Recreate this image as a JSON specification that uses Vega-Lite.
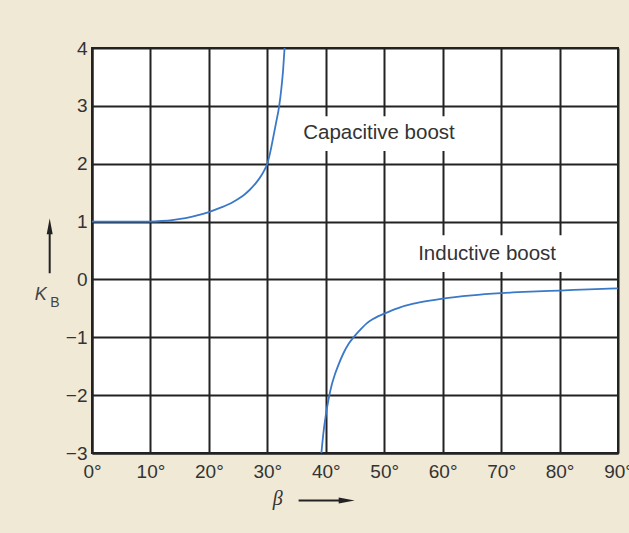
{
  "$schema": "https://vega.github.io/schema/vega-lite/v6.json",
  "width": 526,
  "height": 405,
  "autosize": {"type": "none"},
  "padding": {"left": 92, "top": 48, "right": 11, "bottom": 80},
  "background": "#f0e9d6",
  "config": {
    "view": {"fill": "white", "stroke": "#222", "strokeWidth": 2},
    "axis": {
      "grid": true,
      "gridColor": "#222",
      "gridWidth": 2,
      "gridOpacity": 1,
      "ticks": false,
      "domainColor": "#222",
      "domainWidth": 2,
      "labelFont": "Liberation Sans",
      "labelFontSize": 19,
      "labelColor": "#333",
      "labelFlush": false,
      "labelOverlap": false,
      "labelBound": false
    },
    "axisX": {"labelPadding": 9},
    "axisY": {"labelPadding": 5}
  },
  "datasets": {
    "curve": [
      {"beta": 0, "kb": 1.0, "branch": "capacitive"},
      {"beta": 5, "kb": 1.0, "branch": "capacitive"},
      {"beta": 10, "kb": 1.0, "branch": "capacitive"},
      {"beta": 12, "kb": 1.01, "branch": "capacitive"},
      {"beta": 14, "kb": 1.03, "branch": "capacitive"},
      {"beta": 16, "kb": 1.06, "branch": "capacitive"},
      {"beta": 18, "kb": 1.105, "branch": "capacitive"},
      {"beta": 20, "kb": 1.165, "branch": "capacitive"},
      {"beta": 22, "kb": 1.24, "branch": "capacitive"},
      {"beta": 24, "kb": 1.33, "branch": "capacitive"},
      {"beta": 25, "kb": 1.39, "branch": "capacitive"},
      {"beta": 26, "kb": 1.46, "branch": "capacitive"},
      {"beta": 27, "kb": 1.55, "branch": "capacitive"},
      {"beta": 28, "kb": 1.66, "branch": "capacitive"},
      {"beta": 29, "kb": 1.8, "branch": "capacitive"},
      {"beta": 29.5, "kb": 1.89, "branch": "capacitive"},
      {"beta": 30, "kb": 2.0, "branch": "capacitive"},
      {"beta": 30.5, "kb": 2.2, "branch": "capacitive"},
      {"beta": 31, "kb": 2.45, "branch": "capacitive"},
      {"beta": 31.5, "kb": 2.71, "branch": "capacitive"},
      {"beta": 32, "kb": 2.98, "branch": "capacitive"},
      {"beta": 32.4, "kb": 3.3, "branch": "capacitive"},
      {"beta": 32.7, "kb": 3.62, "branch": "capacitive"},
      {"beta": 32.95, "kb": 4.0, "branch": "capacitive"},
      {"beta": 39.25, "kb": -3.0, "branch": "inductive"},
      {"beta": 39.6, "kb": -2.65, "branch": "inductive"},
      {"beta": 40, "kb": -2.35, "branch": "inductive"},
      {"beta": 40.5, "kb": -2.06, "branch": "inductive"},
      {"beta": 41, "kb": -1.83, "branch": "inductive"},
      {"beta": 41.5, "kb": -1.66, "branch": "inductive"},
      {"beta": 42, "kb": -1.52, "branch": "inductive"},
      {"beta": 43, "kb": -1.28, "branch": "inductive"},
      {"beta": 44, "kb": -1.1, "branch": "inductive"},
      {"beta": 45, "kb": -0.97, "branch": "inductive"},
      {"beta": 46, "kb": -0.86, "branch": "inductive"},
      {"beta": 47, "kb": -0.76, "branch": "inductive"},
      {"beta": 48, "kb": -0.69, "branch": "inductive"},
      {"beta": 49, "kb": -0.635, "branch": "inductive"},
      {"beta": 50, "kb": -0.59, "branch": "inductive"},
      {"beta": 52.5, "kb": -0.49, "branch": "inductive"},
      {"beta": 55, "kb": -0.42, "branch": "inductive"},
      {"beta": 57.5, "kb": -0.37, "branch": "inductive"},
      {"beta": 60, "kb": -0.33, "branch": "inductive"},
      {"beta": 65, "kb": -0.275, "branch": "inductive"},
      {"beta": 70, "kb": -0.238, "branch": "inductive"},
      {"beta": 75, "kb": -0.212, "branch": "inductive"},
      {"beta": 80, "kb": -0.192, "branch": "inductive"},
      {"beta": 85, "kb": -0.172, "branch": "inductive"},
      {"beta": 90, "kb": -0.155, "branch": "inductive"}
    ]
  },
  "layer": [
    {
      "data": {"name": "curve"},
      "mark": {"type": "line", "clip": true, "color": "#3a78c8", "strokeWidth": 1.8, "interpolate": "monotone"},
      "encoding": {
        "x": {"field": "beta", "type": "quantitative", "title": null,
              "scale": {"domain": [0, 90], "nice": false, "zero": false},
              "axis": {"values": [0, 10, 20, 30, 40, 50, 60, 70, 80, 90], "labelExpr": "datum.label + '°'"}},
        "y": {"field": "kb", "type": "quantitative", "title": null,
              "scale": {"domain": [-3, 4], "nice": false, "zero": false},
              "axis": {"values": [-3, -2, -1, 0, 1, 2, 3, 4], "format": "d"}},
        "detail": {"field": "branch"}
      }
    },
    {
      "data": {"values": [{}]},
      "mark": {"type": "rect", "fill": "white"},
      "encoding": {
        "x": {"datum": 36, "type": "quantitative", "title": null, "scale": {"domain": [0, 90]}},
        "x2": {"datum": 62.5},
        "y": {"datum": 2.22, "type": "quantitative", "title": null, "scale": {"domain": [-3, 4]}},
        "y2": {"datum": 2.82}
      }
    },
    {
      "data": {"values": [{}]},
      "mark": {"type": "rect", "fill": "white"},
      "encoding": {
        "x": {"datum": 54.5, "type": "quantitative", "title": null, "scale": {"domain": [0, 90]}},
        "x2": {"datum": 81.5},
        "y": {"datum": 0.13, "type": "quantitative", "title": null, "scale": {"domain": [-3, 4]}},
        "y2": {"datum": 0.765}
      }
    },
    {
      "data": {"values": [{}]},
      "mark": {"type": "text", "font": "Liberation Sans", "fontSize": 20.5, "color": "#333", "align": "center", "baseline": "middle", "text": "Capacitive boost"},
      "encoding": {
        "x": {"datum": 49.1, "type": "quantitative", "title": null, "scale": {"domain": [0, 90]}},
        "y": {"datum": 2.535, "type": "quantitative", "title": null, "scale": {"domain": [-3, 4]}}
      }
    },
    {
      "data": {"values": [{}]},
      "mark": {"type": "text", "font": "Liberation Sans", "fontSize": 20.5, "color": "#333", "align": "center", "baseline": "middle", "text": "Inductive boost"},
      "encoding": {
        "x": {"datum": 67.6, "type": "quantitative", "title": null, "scale": {"domain": [0, 90]}},
        "y": {"datum": 0.436, "type": "quantitative", "title": null, "scale": {"domain": [-3, 4]}}
      }
    },
    {
      "data": {"values": [{}]},
      "mark": {"type": "text", "font": "Liberation Sans", "fontSize": 18, "fontStyle": "italic", "color": "#444", "align": "center", "baseline": "alphabetic", "text": "K"},
      "encoding": {
        "x": {"datum": -8.75, "type": "quantitative", "title": null, "scale": {"domain": [0, 90]}},
        "y": {"datum": -0.36, "type": "quantitative", "title": null, "scale": {"domain": [-3, 4]}}
      }
    },
    {
      "data": {"values": [{}]},
      "mark": {"type": "text", "font": "Liberation Sans", "fontSize": 14, "color": "#444", "align": "left", "baseline": "alphabetic", "text": "B"},
      "encoding": {
        "x": {"datum": -7.15, "type": "quantitative", "title": null, "scale": {"domain": [0, 90]}},
        "y": {"datum": -0.476, "type": "quantitative", "title": null, "scale": {"domain": [-3, 4]}}
      }
    },
    {
      "data": {"values": [{}]},
      "mark": {"type": "rule", "color": "#222", "strokeWidth": 2},
      "encoding": {
        "x": {"datum": -7.24, "type": "quantitative", "title": null, "scale": {"domain": [0, 90]}},
        "y": {"datum": 0.107, "type": "quantitative", "title": null, "scale": {"domain": [-3, 4]}},
        "y2": {"datum": 0.886}
      }
    },
    {
      "data": {"values": [{}]},
      "mark": {"type": "point", "filled": true, "color": "#222", "opacity": 1, "size": 400, "shape": "M0,-1L0.3,0.6L-0.3,0.6Z"},
      "encoding": {
        "x": {"datum": -7.24, "type": "quantitative", "title": null, "scale": {"domain": [0, 90]}},
        "y": {"datum": 0.886, "type": "quantitative", "title": null, "scale": {"domain": [-3, 4]}}
      }
    },
    {
      "data": {"values": [{}]},
      "mark": {"type": "text", "font": "Liberation Serif", "fontSize": 20, "fontStyle": "italic", "color": "#333", "align": "center", "baseline": "middle", "text": "β"},
      "encoding": {
        "x": {"datum": 31.8, "type": "quantitative", "title": null, "scale": {"domain": [0, 90]}},
        "y": {"datum": -3.79, "type": "quantitative", "title": null, "scale": {"domain": [-3, 4]}}
      }
    },
    {
      "data": {"values": [{}]},
      "mark": {"type": "rule", "color": "#222", "strokeWidth": 2},
      "encoding": {
        "x": {"datum": 35.35, "type": "quantitative", "title": null, "scale": {"domain": [0, 90]}},
        "x2": {"datum": 43.24},
        "y": {"datum": -3.82, "type": "quantitative", "title": null, "scale": {"domain": [-3, 4]}}
      }
    },
    {
      "data": {"values": [{}]},
      "mark": {"type": "point", "filled": true, "color": "#222", "opacity": 1, "size": 400, "shape": "M1,0L-0.6,0.3L-0.6,-0.3Z"},
      "encoding": {
        "x": {"datum": 43.24, "type": "quantitative", "title": null, "scale": {"domain": [0, 90]}},
        "y": {"datum": -3.82, "type": "quantitative", "title": null, "scale": {"domain": [-3, 4]}}
      }
    }
  ]
}
